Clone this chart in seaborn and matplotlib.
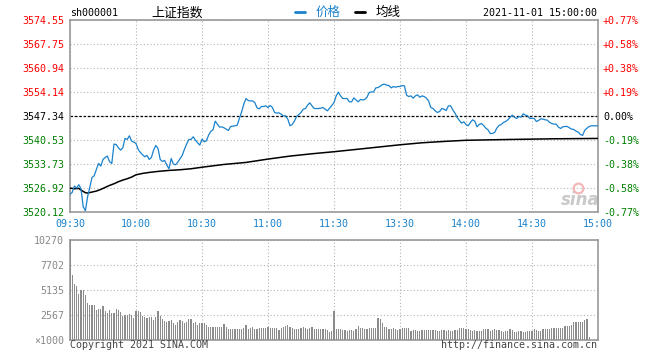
import matplotlib
matplotlib.use("Agg")
import matplotlib.pyplot as plt
from matplotlib.lines import Line2D
import seaborn as sns
import numpy as np

# ---------------- data ----------------
prev_close = 3547.34
y_ticks = [3520.12, 3526.92, 3533.73, 3540.53, 3547.34, 3554.14, 3560.94, 3567.75, 3574.55]
pct_labels = ['-0.77%', '-0.58%', '-0.38%', '-0.19%', '0.00%', '+0.19%', '+0.38%', '+0.58%', '+0.77%']
time_ticks = [0, 30, 60, 90, 120, 150, 180, 210, 240]
time_labels = ['09:30', '10:00', '10:30', '11:00', '11:30', '13:30', '14:00', '14:30', '15:00']
vol_ticks = [0, 2567, 5135, 7702, 10270]
vol_labels = ['\u00d71000', '2567', '5135', '7702', '10270']

price = [
    3525.04, 3525.60, 3527.40, 3526.83, 3527.78, 3526.64, 3521.54, 3520.40, 3524.38, 3527.02,
    3529.86, 3530.33, 3532.13, 3533.83, 3533.07, 3534.96, 3535.53, 3535.91, 3534.30, 3533.83,
    3539.31, 3539.21, 3538.27, 3537.61, 3538.27, 3540.91, 3540.63, 3541.67, 3540.16, 3539.87,
    3539.50, 3537.80, 3536.94, 3536.28, 3535.72, 3536.09, 3534.96, 3535.53, 3537.61, 3538.93,
    3538.08, 3534.96, 3534.39, 3534.68, 3533.35, 3532.31, 3535.24, 3533.64, 3533.45, 3534.20,
    3535.15, 3536.09, 3537.80, 3539.31, 3540.63, 3540.63, 3541.39, 3540.44, 3539.69, 3539.02,
    3540.70,
    3539.97, 3540.25, 3541.86, 3542.90, 3543.37, 3545.83, 3544.98, 3544.13, 3544.22, 3543.94,
    3543.56, 3543.18, 3544.32, 3544.41, 3544.51, 3544.69, 3546.58, 3548.47, 3550.65, 3552.25,
    3551.69, 3551.59, 3551.59, 3551.12, 3549.61, 3549.32, 3549.99, 3549.99, 3550.18, 3549.70,
    3550.27, 3549.70, 3548.29, 3548.10, 3548.19, 3547.81, 3547.34, 3547.34, 3546.40, 3544.51,
    3544.88, 3545.83, 3547.15, 3547.72, 3548.29, 3549.23, 3549.42, 3550.37, 3551.03, 3550.18,
    3549.42, 3549.42, 3549.42, 3549.51, 3549.70, 3549.23, 3548.76, 3549.51, 3550.27, 3551.12,
    3553.01, 3554.05, 3553.01, 3552.25, 3552.25, 3552.25, 3551.31, 3551.31, 3552.44, 3551.88,
    3551.31, 3551.97, 3551.88, 3551.97, 3552.63, 3553.96, 3554.14, 3554.14, 3555.28, 3555.37,
    3555.75, 3556.22, 3556.32, 3556.03, 3555.94, 3555.28, 3555.66, 3555.47, 3555.66, 3555.66,
    3555.94, 3555.85, 3553.20, 3552.82, 3553.01, 3552.35, 3553.01, 3553.29, 3552.63, 3553.01,
    3552.82, 3552.35, 3551.59, 3549.70, 3549.42, 3548.76, 3548.29, 3548.57, 3549.42, 3549.23,
    3548.85, 3550.18, 3550.18, 3549.04, 3548.10, 3546.87, 3546.02, 3545.26, 3545.64, 3544.88,
    3544.51, 3545.45, 3546.21, 3545.83, 3544.22, 3544.88, 3545.17, 3544.60, 3543.84, 3543.37,
    3542.33, 3542.33, 3542.62, 3543.84, 3544.60, 3544.88, 3545.45, 3545.73, 3546.21, 3546.87,
    3547.53, 3546.96, 3546.58, 3547.15, 3546.96, 3547.91, 3547.53, 3547.34, 3546.58, 3546.68,
    3546.58, 3545.73, 3546.02, 3546.49, 3546.40, 3546.21, 3546.11, 3545.45, 3545.17, 3544.98,
    3544.98, 3544.13, 3543.75, 3544.22, 3544.32, 3544.32, 3543.94, 3543.56, 3543.47, 3543.00,
    3542.71, 3542.05, 3541.77, 3543.28, 3543.84, 3544.32, 3544.51, 3544.51, 3544.51, 3544.51,
]

avg_idx = [0, 2, 4, 5, 7, 8, 10, 12, 14, 16, 18, 20, 22, 24, 26, 28, 30, 33, 36, 40,
           45, 50, 55, 60, 70, 80, 90, 100, 110, 120, 130, 140, 150, 160, 170, 180, 200, 220, 240]
avg_val = [3526.83, 3526.64, 3526.74, 3526.26, 3525.51, 3525.41, 3525.70, 3525.98, 3526.45, 3527.02,
           3527.59, 3528.06, 3528.63, 3529.10, 3529.48, 3529.95, 3530.60, 3530.99, 3531.27, 3531.56,
           3531.84, 3532.03, 3532.31, 3532.75, 3533.54, 3534.11, 3535.06, 3535.91, 3536.57, 3537.15,
           3537.80, 3538.46, 3539.12, 3539.69, 3540.07, 3540.40, 3540.63, 3540.82, 3540.92]

volume = [
    10270,
    6709, 5751, 5580, 4758, 5135, 5135, 4655, 3800, 3628, 3628,
    3628, 3115, 3183, 3183, 3526, 3012, 2841, 3115, 2773, 2773,
    3183, 3115, 2875, 2533, 2601, 2601, 2670, 2601, 2328, 3046,
    3046, 2944, 2533, 2362, 2328, 2362, 2396, 2088, 2362, 3012,
    2533, 2156, 2020, 1917, 2020, 2088, 1814, 1575, 1917, 2088,
    1985, 1746, 1917, 2191, 2156, 1746, 1848, 1575, 1814, 1746,
    1814, 1575, 1403, 1403, 1403, 1403, 1403, 1369, 1403, 1677,
    1335, 1164, 1164, 1164, 1164, 1164, 1130, 1130, 1232, 1575,
    1164, 1232, 1369, 1164, 1164, 1301, 1301, 1232, 1301, 1369,
    1301, 1232, 1232, 1232, 1061, 1232, 1403, 1506, 1575, 1369,
    1301, 1164, 1164, 1130, 1301, 1369, 1232, 1164, 1301, 1369,
    1164, 1164, 1164, 1130, 1164, 1164, 1061, 890, 958, 3012,
    1164,
    1164, 1164, 1061, 1061, 993, 1061, 1061, 958, 1164, 1472,
    1232, 1232, 1164, 1164, 1232, 1301, 1232, 1232, 2328, 2156,
    1814, 1403, 1403, 1164, 1164, 1232, 1130, 1061, 1164, 1232,
    1232, 1232, 1301, 993, 1061, 1061, 993, 993, 1061, 1061,
    1061, 1061, 1061, 1061, 1061, 993, 993, 1061, 1061, 958,
    1061, 958, 958, 1061, 1061, 1232, 1301, 1232, 1164, 1130,
    1061, 993, 1061, 993, 993, 993, 1130, 1130, 1130, 958,
    1061, 1130, 1061, 1061, 958, 890, 958, 958, 1130, 1061,
    890, 890, 958, 958, 890, 890, 958, 993, 993, 1130,
    1061, 958, 958, 1130, 1130, 1130, 1164, 1232, 1232, 1232,
    1301, 1301, 1301, 1472, 1472, 1506, 1575, 1848, 1848, 1848,
    1917, 1848, 2088, 2156, 377,
    0, 0, 0, 0,
]

# ---------------- style ----------------
sns.set_style("white")
plt.rcParams['font.family'] = ['DejaVu Sans Mono', 'Noto Sans CJK SC']
MONO = 'DejaVu Sans Mono'
CJK = ['Noto Sans CJK SC', 'DejaVu Sans']
BLUE = '#1a82cc'
GRID = '#b4b4b4'
SPINE = '#9a9a9a'
FS = 7.2

W, H = 660, 360
fig = plt.figure(figsize=(6.6, 3.6), dpi=100)
fig.patch.set_facecolor('white')

def fx(x):
    return x / W

def fy(y):
    return 1 - y / H

ax = fig.add_axes([fx(70), fy(211.7), 528 / W, 191.7 / H])
axv = fig.add_axes([fx(70), fy(340.3), 528 / W, 100 / H])

idx = np.arange(len(price))

# ---------------- main price panel ----------------
ax.set_xlim(0, 240)
ax.set_ylim(y_ticks[0], y_ticks[-1])
ax.set_xticks(time_ticks)
ax.set_xticklabels(time_labels)
ax.set_yticks(y_ticks)
ax.set_yticklabels([f"{v:.2f}" for v in y_ticks])
ax.grid(True, linestyle=(0, (1, 2)), color=GRID, linewidth=0.8)
ax.axhline(prev_close, color='black', linestyle=(0, (2, 1.5)), linewidth=0.9, zorder=2)

sns.lineplot(x=idx, y=price, ax=ax, color=BLUE, linewidth=0.9, zorder=4)
sns.lineplot(x=avg_idx, y=avg_val, ax=ax, color='black', linewidth=1.1, zorder=3)
ax.set_xlabel('')
ax.set_ylabel('')

ax.tick_params(axis='both', length=0, labelsize=FS)
ax.tick_params(axis='x', pad=5, labelcolor=BLUE)
ax.tick_params(axis='y', pad=4.3)
for lab, v in zip(ax.get_yticklabels(), y_ticks):
    lab.set_fontfamily(MONO)
    lab.set_color('red' if v > prev_close + 0.01 else ('black' if abs(v - prev_close) < 0.01 else 'green'))
for lab in ax.get_xticklabels():
    lab.set_fontfamily(MONO)
for s in ax.spines.values():
    s.set_color(SPINE)
    s.set_linewidth(1.2)

ax2 = ax.twinx()
ax2.set_ylim(y_ticks[0], y_ticks[-1])
ax2.set_yticks(y_ticks)
ax2.set_yticklabels(pct_labels)
ax2.tick_params(axis='y', length=0, labelsize=FS, pad=3.6)
for lab, v in zip(ax2.get_yticklabels(), y_ticks):
    lab.set_fontfamily(MONO)
    lab.set_color('red' if v > prev_close + 0.01 else ('black' if abs(v - prev_close) < 0.01 else 'green'))
for s in ax2.spines.values():
    s.set_visible(False)

# watermark
ax.text(0.966, 0.062, 'sina', transform=ax.transAxes, ha='center', va='center',
        fontsize=12, fontstyle='italic', fontweight='bold', color='#c9c9c9',
        family='DejaVu Sans', zorder=1)
ax.plot([0.962], [0.125], transform=ax.transAxes, marker='o', markersize=7,
        markerfacecolor='none', markeredgecolor='#f2b8b8', markeredgewidth=1.6, zorder=1)

# ---------------- volume panel ----------------
axv.bar(np.arange(len(volume)), volume, width=0.55, color='#8c8c8c', linewidth=0, zorder=3)
axv.set_xlim(0, 240)
axv.set_ylim(0, vol_ticks[-1])
axv.set_xticks(time_ticks)
axv.set_xticklabels([])
axv.set_yticks(vol_ticks)
axv.set_yticklabels(vol_labels)
axv.grid(True, linestyle=(0, (1, 2)), color=GRID, linewidth=0.8, zorder=0)
axv.tick_params(axis='both', length=0, labelsize=FS)
axv.tick_params(axis='y', pad=4.3, labelcolor='#888888')
for lab in axv.get_yticklabels():
    lab.set_fontfamily(MONO)
for s in axv.spines.values():
    s.set_color(SPINE)
    s.set_linewidth(1.2)

# ---------------- header & footer ----------------
fig.text(fx(70), fy(13.3), 'sh000001', ha='left', va='center', fontsize=FS, family=MONO, color='black')
fig.text(fx(177), fy(12.8), '上证指数', ha='center', va='center', fontsize=9.3, family=CJK, color='black')
fig.add_artist(Line2D([fx(295), fx(305)], [fy(12.3), fy(12.3)], transform=fig.transFigure,
                      color=BLUE, linewidth=2.0))
fig.text(fx(315.5), fy(12.8), '价格', ha='left', va='center', fontsize=9.0, family=CJK, color=BLUE)
fig.add_artist(Line2D([fx(355), fx(365)], [fy(12.3), fy(12.3)], transform=fig.transFigure,
                      color='black', linewidth=2.0))
fig.text(fx(375.5), fy(12.8), '均线', ha='left', va='center', fontsize=9.0, family=CJK, color='black')
fig.text(fx(597), fy(13.3), '2021-11-01 15:00:00', ha='right', va='center', fontsize=FS, family=MONO, color='black')

fig.text(fx(70), fy(345.5), 'Copyright 2021 SINA.COM', ha='left', va='center', fontsize=FS, family=MONO, color='#444444')
fig.text(fx(597), fy(345.5), 'http://finance.sina.com.cn', ha='right', va='center', fontsize=FS, family=MONO, color='#444444')

fig.savefig('out.png', dpi=100, facecolor='white')
